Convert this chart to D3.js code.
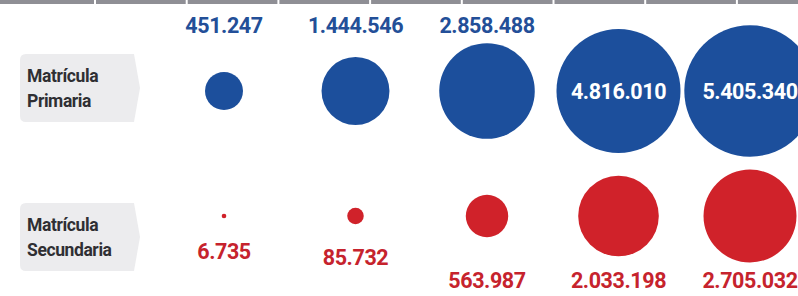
<!DOCTYPE html>
<html>
<head>
<meta charset="utf-8">
<script src="https://cdn.jsdelivr.net/npm/d3@7"></script>
<style>
  html, body { margin: 0; padding: 0; background: #fff; }
  #container { width: 798px; height: 296px; overflow: hidden; }
</style>
</head>
<body>
<div id="container"></div>
<script>
// data
let columns = [0, 1, 2, 3, 4];
let rows = ['Primaria', 'Secundaria'];
let rowLabels = [['Matrícula', 'Primaria'], ['Matrícula', 'Secundaria']];
let primaria = [451247, 1444546, 2858488, 4816010, 5405340];
let secundaria = [6735, 85732, 563987, 2033198, 2705032];

let w = 798,
    h = 296;

let fmt = d3.formatLocale({ decimal: ',', thousands: '.', grouping: [3], currency: ['', ''] }).format(',d');

let viz = d3.select('#container')
    .append('svg')
      .attr('width', w)
      .attr('height', h)
      .style('background', '#fff')
      .style('font-family', 'Roboto, sans-serif')
;

let x = d3.scalePoint().domain(columns).range([224, 750]);
let y = d3.scalePoint().domain(rows).range([91, 216]);
let r = d3.scaleSqrt().domain([0, 5405340]).range([0, 65.7]);

let colors = { Primaria: '#1c4f9c', Secundaria: '#d0222a' };
let textColors = { Primaria: '#234f98', Secundaria: '#c6232d' };

function main() {
    // header strip (cropped column headers)
    viz.append('rect')
        .attr('x', 0).attr('y', 0)
        .attr('width', w).attr('height', 4)
        .attr('fill', '#8f8f95');
    viz.selectAll('.sep')
        .data(d3.range(8))
        .join('rect')
          .attr('class', 'sep')
          .attr('x', d => 94 + d * 91.7)
          .attr('y', 0)
          .attr('width', 2)
          .attr('height', 4)
          .attr('fill', '#fff');

    // row label tabs
    let tabs = viz.selectAll('.tab')
        .data(rows)
        .join('g')
          .attr('class', 'tab')
          .attr('transform', (d, i) => 'translate(20,' + (y(d) + (i === 0 ? -3 : 21)) + ')');

    tabs.append('path')
        .attr('d', 'M6,-34 L114,-34 L120,0 L114,34 L6,34 Q0,34 0,28 L0,-28 Q0,-34 6,-34 Z')
        .attr('fill', '#ececee');

    tabs.each(function(d, i) {
        let t = d3.select(this).append('text')
            .attr('fill', '#2f2f33')
            .attr('font-size', 17.5)
            .attr('font-weight', 'bold')
            .attr('letter-spacing', -0.4);
        t.append('tspan').attr('x', 7).attr('y', -6).text(rowLabels[i][0]);
        t.append('tspan').attr('x', 7).attr('y', 19).text(rowLabels[i][1]);
    });

    let series = [
        { key: 'Primaria', values: primaria },
        { key: 'Secundaria', values: secundaria }
    ];

    series.forEach(s => {
        let g = viz.append('g');
        let cy = y(s.key);

        g.selectAll('circle')
            .data(s.values)
            .join('circle')
              .attr('cx', (d, i) => x(columns[i]))
              .attr('cy', cy)
              .attr('r', d => r(d))
              .attr('fill', colors[s.key]);

        g.selectAll('text')
            .data(s.values)
            .join('text')
              .attr('x', (d, i) => x(columns[i]))
              .attr('y', d => {
                  if (s.key === 'Primaria') return r(d) > 55 ? cy + 7.5 : 33;
                  return r(d) < 15 ? cy + r(d) + 41 : 288;
              })
              .attr('text-anchor', 'middle')
              .attr('font-size', 21.5)
              .attr('font-weight', 'bold')
              .attr('letter-spacing', -0.4)
              .attr('fill', d => (s.key === 'Primaria' && r(d) > 55) ? '#fff' : textColors[s.key])
              .text(d => fmt(d));
    });
}

main();
</script>
</body>
</html>
